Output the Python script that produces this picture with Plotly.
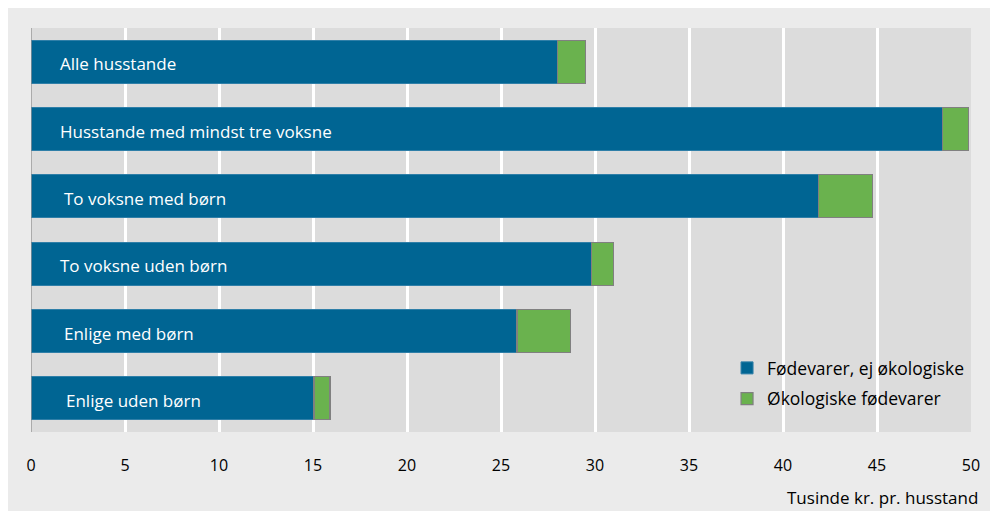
import plotly.graph_objects as go

categories = ["Alle husstande", "Husstande med mindst tre voksne", "To voksne med børn",
              "To voksne uden børn", "Enlige med børn", "Enlige uden børn"]
non_organic = [28.0, 48.5, 41.9, 29.8, 25.85, 15.05]
organic = [1.5, 1.35, 2.85, 1.2, 2.85, 0.85]
label_x = [1.45, 1.45, 1.65, 1.45, 1.65, 1.75]
tick_vals = [0, 5, 10, 15, 20, 25, 30, 35, 40, 45, 50]
series_names = ["Fødevarer, ej økologiske", "Økologiske fødevarer"]
x_title = "Tusinde kr. pr. husstand"

BLUE = "#006593"
GREEN = "#6ab24e"
FONT = "Open Sans"

# figure sits at page offset (8, 8)
W, H = 984, 503
ML, MR, MT, MB = 23, 17, 20, 79
PW, PH = W - ML - MR, H - MT - MB

def px_x(p):
    return (p - ML) / PW

def px_y(p):
    return (H - MB - p) / PH

fig = go.Figure()
fig.add_trace(go.Bar(y=categories, x=non_organic, orientation="h", name=series_names[0],
                     legendgroup="a",
                     marker=dict(color=BLUE, line=dict(color="#2f7fa8", width=1))))
fig.add_trace(go.Bar(y=categories, x=organic, orientation="h", name=series_names[1],
                     legendgroup="b",
                     marker=dict(color=GREEN, line=dict(color="#808080", width=1.2))))

for c, lx in zip(categories, label_x):
    fig.add_annotation(x=lx, y=c, text=c, showarrow=False, xanchor="left", yanchor="middle",
                       yshift=-2, font=dict(family=FONT, size=17, color="white"))

fig.add_annotation(xref="paper", yref="paper", x=px_x(976), y=px_y(490), text=x_title,
                   showarrow=False, xanchor="right", yanchor="middle",
                   font=dict(family=FONT, size=17, color="black"))

fig.update_layout(
    width=W, height=H,
    margin=dict(l=ML, r=MR, t=MT, b=MB),
    barmode="stack", bargap=0.36,
    paper_bgcolor="#ebebeb", plot_bgcolor="#dcdcdc",
    showlegend=True,
    legend=dict(x=px_x(722), y=px_y(342), xanchor="left", yanchor="top",
                traceorder="grouped", tracegroupgap=5,
                bgcolor="rgba(0,0,0,0)", font=dict(family=FONT, size=17.5, color="black"),
                itemwidth=30),
    xaxis=dict(range=[0, 50], tickvals=tick_vals, showgrid=True, gridcolor="white", gridwidth=2.5,
               zeroline=False, showline=False, ticks="", ticklabelstandoff=22,
               tickfont=dict(family=FONT, size=16, color="black"),
               fixedrange=True),
    yaxis=dict(autorange="reversed", showticklabels=False, showgrid=False, zeroline=False,
               showline=False, ticks=""),
)
# left axis line at x=0
fig.add_shape(type="line", xref="x", yref="paper", x0=0, x1=0, y0=0, y1=1,
              line=dict(color="#8a8a8a", width=1.2))

fig.write_html("out.html")
